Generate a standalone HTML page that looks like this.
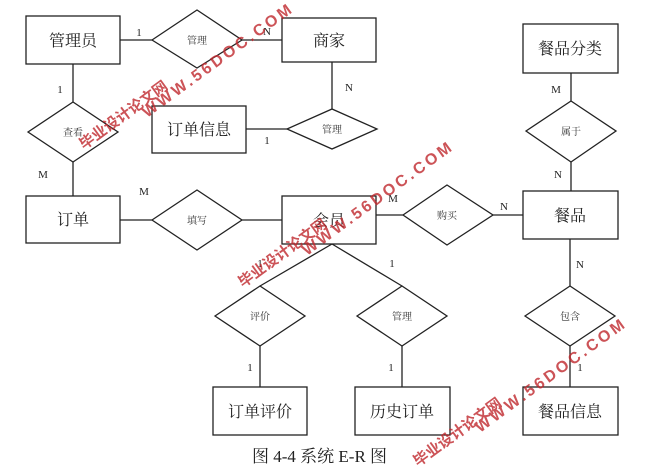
<!DOCTYPE html>
<html><head><meta charset="utf-8"><style>
html,body{margin:0;padding:0;background:#fff;}
svg{display:block;}
.b{font-family:"Liberation Serif","Noto Serif CJK SC","Noto Sans CJK SC",serif;}
</style></head><body>
<svg width="661" height="467" viewBox="0 0 661 467" xmlns="http://www.w3.org/2000/svg">
<g fill="#fff" stroke="#222" stroke-width="1.3">
<rect x="26" y="16" width="94" height="48"/>
<rect x="282" y="18" width="94" height="44"/>
<rect x="152" y="106" width="94" height="47"/>
<rect x="26" y="196" width="94" height="47"/>
<rect x="282" y="196" width="94" height="48"/>
<rect x="523" y="191" width="95" height="48"/>
<rect x="523" y="24" width="95" height="49"/>
<rect x="213" y="387" width="94" height="48"/>
<rect x="355" y="387" width="95" height="48"/>
<rect x="523" y="387" width="95" height="48"/>
<polygon points="152,40 197,10 242,40 197,68"/>
<polygon points="28,132 73,102 118,132 73,162"/>
<polygon points="287,129 332,109 377,129 332,149"/>
<polygon points="152,220 197,190 242,220 197,250"/>
<polygon points="403,215 447,185 493,215 447,245"/>
<polygon points="526,131 571,101 616,131 571,162"/>
<polygon points="215,316 260,286 305,316 260,346"/>
<polygon points="357,316 402,286 447,316 402,346"/>
<polygon points="525,316 570,286 615,316 570,346"/>
</g>
<g stroke="#222" stroke-width="1.3" fill="none">
<line x1="120" y1="40" x2="152" y2="40"/>
<line x1="242" y1="40" x2="282" y2="40"/>
<line x1="73" y1="64" x2="73" y2="102"/>
<line x1="73" y1="162" x2="73" y2="196"/>
<line x1="332" y1="62" x2="332" y2="109"/>
<line x1="246" y1="129" x2="287" y2="129"/>
<line x1="120" y1="220" x2="152" y2="220"/>
<line x1="242" y1="220" x2="282" y2="220"/>
<line x1="376" y1="215" x2="403" y2="215"/>
<line x1="493" y1="215" x2="523" y2="215"/>
<line x1="571" y1="73" x2="571" y2="101"/>
<line x1="571" y1="162" x2="571" y2="191"/>
<line x1="570" y1="239" x2="570" y2="286"/>
<line x1="570" y1="346" x2="570" y2="387"/>
<line x1="332" y1="244" x2="260" y2="286"/>
<line x1="332" y1="244" x2="402" y2="286"/>
<line x1="260" y1="346" x2="260" y2="387"/>
<line x1="402" y1="346" x2="402" y2="387"/>
</g>
<g class="b" font-size="16" fill="#222" text-anchor="middle">
<text x="73" y="46">管理员</text>
<text x="329" y="46">商家</text>
<text x="199" y="135">订单信息</text>
<text x="73" y="225">订单</text>
<text x="329" y="226">会员</text>
<text x="570" y="221">餐品</text>
<text x="570" y="54">餐品分类</text>
<text x="260" y="417">订单评价</text>
<text x="402" y="417">历史订单</text>
<text x="570" y="417">餐品信息</text>
</g>
<g class="b" font-size="10" fill="#333" text-anchor="middle">
<text x="197" y="44">管理</text>
<text x="73" y="136">查看</text>
<text x="332" y="133">管理</text>
<text x="197" y="224">填写</text>
<text x="447" y="219">购买</text>
<text x="571" y="135">属于</text>
<text x="260" y="320">评价</text>
<text x="402" y="320">管理</text>
<text x="570" y="320">包含</text>
</g>
<g class="b" font-size="11" fill="#222" text-anchor="middle">
<text x="139" y="36">1</text>
<text x="267" y="35">N</text>
<text x="60" y="93">1</text>
<text x="43" y="178">M</text>
<text x="349" y="91">N</text>
<text x="267" y="144">1</text>
<text x="144" y="195">M</text>
<text x="393" y="202">M</text>
<text x="504" y="210">N</text>
<text x="556" y="93">M</text>
<text x="558" y="178">N</text>
<text x="580" y="268">N</text>
<text x="260" y="267">1</text>
<text x="392" y="267">1</text>
<text x="250" y="371">1</text>
<text x="391" y="371">1</text>
<text x="580" y="371">1</text>
</g>
<text class="b" x="252" y="462" font-size="17" fill="#222">图 4-4 系统 E-R 图</text>
<g fill="#c0282d" opacity="0.8" font-family="Liberation Sans,'Noto Sans CJK SC',sans-serif" font-weight="bold">
<text transform="translate(84,150) rotate(-36)" font-size="15">毕业设计论文网</text>
<text transform="translate(147,118) rotate(-36)" font-size="16" letter-spacing="3">WWW.56DOC.COM</text>
<text transform="translate(243,288) rotate(-36)" font-size="15">毕业设计论文网</text>
<text transform="translate(307,256) rotate(-36)" font-size="16" letter-spacing="3">WWW.56DOC.COM</text>
<text transform="translate(418,467) rotate(-36)" font-size="15">毕业设计论文网</text>
<text transform="translate(480,433) rotate(-36)" font-size="16" letter-spacing="3">WWW.56DOC.COM</text>
</g>
</svg>
</body></html>
